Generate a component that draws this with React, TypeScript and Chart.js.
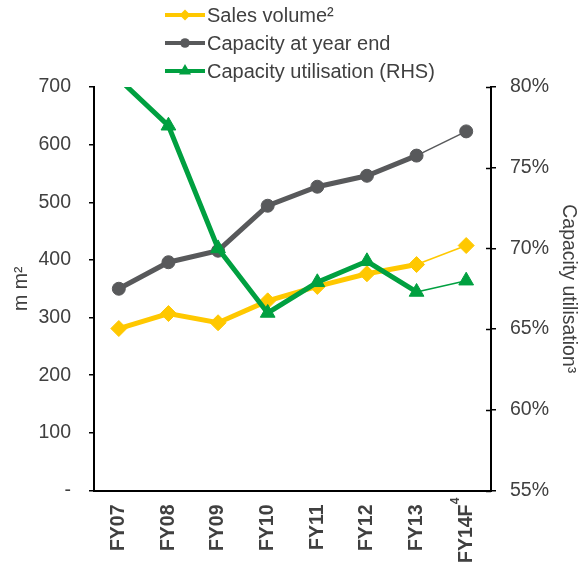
import React, { useEffect, useRef } from "react";
import { Chart, registerables } from "chart.js";

Chart.register(...registerables);

const categories = ["FY07", "FY08", "FY09", "FY10", "FY11", "FY12", "FY13", "FY14F"];
const categoryNotes = ["", "", "", "", "", "", "", "4"];
const salesVolume = [281, 307, 291, 329, 354, 376, 392, 425];
const capacityYearEnd = [350, 396, 416, 494, 527, 546, 581, 623];
const capacityUtilisation = [80.5, 77.6, 70.0, 66.0, 67.9, 69.2, 67.3, 68.0];
const leftTickMin = 0;
const leftTickMax = 700;
const leftTickStep = 100;
const rightTickMin = 55;
const rightTickMax = 80;
const rightTickStep = 5;
const seriesLabels = ["Sales volume²", "Capacity at year end", "Capacity utilisation (RHS)"];
const leftAxisTitle = "m m²";
const rightAxisTitle = "Capacity utilisation³";

const YELLOW = "#FFC800";
const GRAY = "#58595B";
const GREEN = "#00A040";
const TEXT = "#404040";
const FONT = "'Liberation Sans', Arial, sans-serif";

const forecastIndex = categories.length - 1;
const segWidth = (ctx: any) => (ctx.p1DataIndex === forecastIndex ? 1.5 : 5);

function drawMarker(ctx: CanvasRenderingContext2D, style: string, x: number, y: number, r: number) {
  ctx.beginPath();
  if (style === "rectRot") {
    ctx.moveTo(x, y - r);
    ctx.lineTo(x + r, y);
    ctx.lineTo(x, y + r);
    ctx.lineTo(x - r, y);
  } else if (style === "triangle") {
    for (let k = 0; k < 3; k++) {
      const a = (k * 2 * Math.PI) / 3;
      const px = x + Math.sin(a) * r;
      const py = y - Math.cos(a) * r;
      if (k === 0) ctx.moveTo(px, py);
      else ctx.lineTo(px, py);
    }
  } else {
    ctx.arc(x, y, r, 0, Math.PI * 2);
  }
  ctx.closePath();
  ctx.fill();
}

const customLegend = {
  id: "customLegend",
  afterDraw(chart: any) {
    const ctx: CanvasRenderingContext2D = chart.ctx;
    const sizes: Record<string, number> = { rectRot: 5.5, circle: 4.8, triangle: 7 };
    ctx.save();
    chart.data.datasets.forEach((ds: any, i: number) => {
      const y = 15 + i * 28;
      ctx.strokeStyle = ds.borderColor;
      ctx.lineWidth = 4;
      ctx.beginPath();
      ctx.moveTo(165, y);
      ctx.lineTo(205, y);
      ctx.stroke();
      ctx.fillStyle = ds.borderColor;
      drawMarker(ctx, ds.pointStyle, 185, y, sizes[ds.pointStyle] || 5);
      ctx.fillStyle = TEXT;
      ctx.font = `20px ${FONT}`;
      ctx.textAlign = "left";
      ctx.textBaseline = "middle";
      ctx.fillText(ds.label, 207, y + 1);
    });
    ctx.restore();
  },
};

const crossTicks = {
  id: "crossTicks",
  afterDraw(chart: any) {
    const scale = chart.scales.y1;
    const ctx: CanvasRenderingContext2D = chart.ctx;
    ctx.save();
    ctx.strokeStyle = "#000";
    ctx.lineWidth = 1.5;
    scale.ticks.forEach((t: any) => {
      const py = Math.round(scale.getPixelForValue(t.value)) + 0.5;
      ctx.beginPath();
      ctx.moveTo(scale.left - 5, py);
      ctx.lineTo(scale.left, py);
      ctx.stroke();
    });
    ctx.restore();
  },
};

const categoryNotesPlugin = {
  id: "categoryNotes",
  afterDraw(chart: any) {
    const xs = chart.scales.x;
    const ctx: CanvasRenderingContext2D = chart.ctx;
    ctx.save();
    ctx.fillStyle = TEXT;
    ctx.font = `bold 12px ${FONT}`;
    ctx.textAlign = "right";
    ctx.textBaseline = "middle";
    categoryNotes.forEach((note, i) => {
      if (!note) return;
      const px = xs.getPixelForValue(i);
      ctx.save();
      ctx.translate(px - 11, xs.top + 7);
      ctx.rotate(-Math.PI / 2);
      ctx.fillText(note, 0, 0);
      ctx.restore();
    });
    ctx.restore();
  },
};

export default function App() {
  const ref = useRef<HTMLCanvasElement | null>(null);
  useEffect(() => {
    if (!ref.current) return;
    const chart = new Chart(ref.current, {
      type: "line",
      data: {
        labels: categories,
        datasets: [
          {
            label: seriesLabels[0],
            data: salesVolume,
            yAxisID: "y",
            borderColor: YELLOW,
            backgroundColor: YELLOW,
            pointBackgroundColor: YELLOW,
            pointBorderColor: YELLOW,
            borderWidth: 5,
            pointStyle: "rectRot",
            pointRadius: 8,
            pointBorderWidth: 1,
            tension: 0,
            order: 1,
            segment: { borderWidth: segWidth },
          },
          {
            label: seriesLabels[1],
            data: capacityYearEnd,
            yAxisID: "y",
            borderColor: GRAY,
            backgroundColor: GRAY,
            pointBackgroundColor: GRAY,
            pointBorderColor: GRAY,
            borderWidth: 5,
            pointStyle: "circle",
            pointRadius: 6.5,
            pointBorderWidth: 1,
            tension: 0,
            order: 2,
            segment: { borderWidth: segWidth },
          },
          {
            label: seriesLabels[2],
            data: capacityUtilisation,
            yAxisID: "y1",
            borderColor: GREEN,
            backgroundColor: GREEN,
            pointBackgroundColor: GREEN,
            pointBorderColor: GREEN,
            borderWidth: 5,
            pointStyle: "triangle",
            pointRadius: (c: any) => (c.dataIndex === 0 ? 0 : 8.5),
            pointBorderWidth: 1,
            tension: 0,
            order: 0,
            segment: { borderWidth: segWidth },
          },
        ],
      },
      options: {
        animation: false,
        responsive: false,
        layout: { padding: { top: 87, left: 0, right: 0, bottom: 0 } },
        plugins: { legend: { display: false }, tooltip: { enabled: false } },
        scales: {
          x: {
            type: "category",
            offset: true,
            grid: { drawOnChartArea: false, drawTicks: false },
            border: { display: true, color: "#000", width: 2 },
            ticks: {
              color: TEXT,
              font: { family: FONT, size: 19.5, weight: "bold" },
              minRotation: 90,
              maxRotation: 90,
              autoSkip: false,
              padding: 14,
            },
            afterFit: (s: any) => {
              s.height = 75.5;
            },
          },
          y: {
            position: "left",
            min: leftTickMin,
            max: leftTickMax,
            grid: { drawOnChartArea: false, tickLength: 5, color: "#000", lineWidth: 1.5 },
            border: { display: true, color: "#000", width: 2 },
            ticks: {
              stepSize: leftTickStep,
              color: TEXT,
              font: { family: FONT, size: 19.5 },
              padding: 18,
              callback: (v: any) => (Number(v) === 0 ? "-" : String(v)),
            },
            title: {
              display: true,
              text: leftAxisTitle,
              color: TEXT,
              font: { family: FONT, size: 19.5 },
              padding: { top: 10, bottom: 0 },
            },
            afterFit: (s: any) => {
              s.width = 94;
            },
          },
          y1: {
            position: "right",
            min: rightTickMin,
            max: rightTickMax,
            grid: { drawOnChartArea: false, tickLength: 5, color: "#000", lineWidth: 1.5 },
            border: { display: true, color: "#000", width: 2 },
            ticks: {
              stepSize: rightTickStep,
              color: TEXT,
              font: { family: FONT, size: 19.5 },
              padding: 14,
              callback: (v: any) => `${v}%`,
            },
            title: {
              display: true,
              text: rightAxisTitle,
              color: TEXT,
              font: { family: FONT, size: 19.5 },
              padding: { top: 7, bottom: 0 },
            },
            afterFit: (s: any) => {
              s.width = 96;
            },
          },
        },
      } as any,
      plugins: [customLegend, crossTicks, categoryNotesPlugin],
    });
    return () => chart.destroy();
  }, []);
  return (
    <div style={{ position: "absolute", left: 0, top: 0, width: 587, height: 566, background: "#fff" }}>
      <canvas ref={ref} width={587} height={566} style={{ display: "block" }} />
    </div>
  );
}
